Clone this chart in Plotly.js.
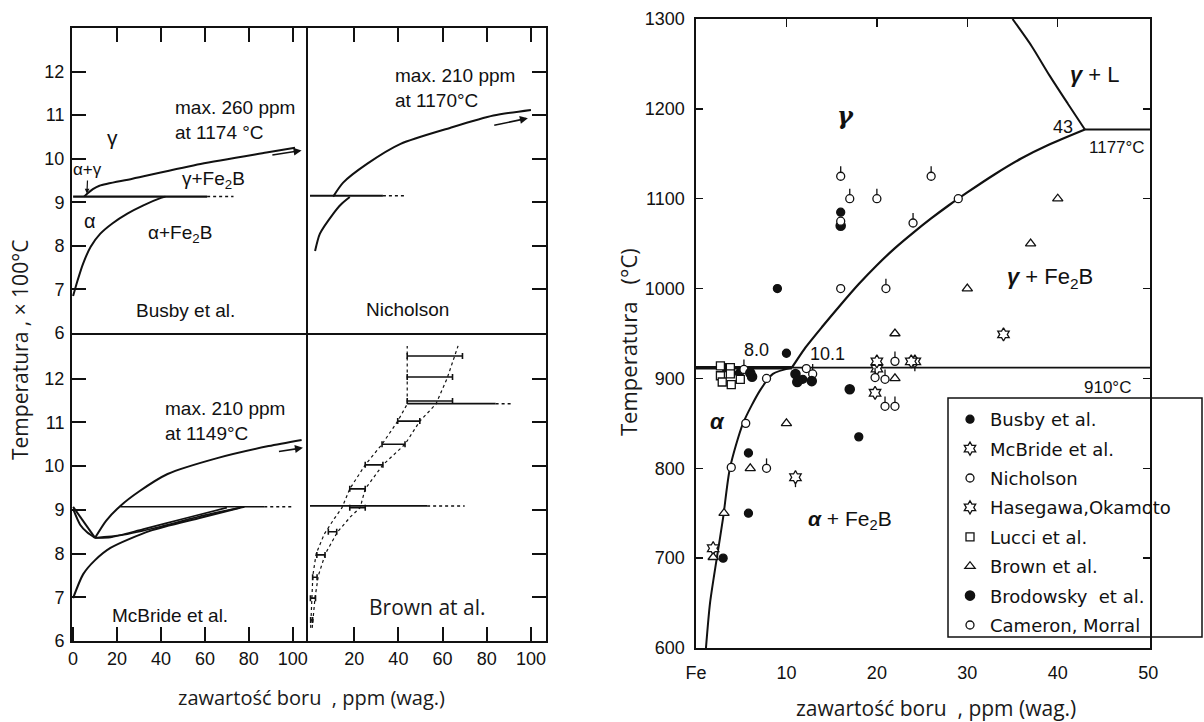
<!DOCTYPE html>
<html><head><meta charset="utf-8">
<script src="https://cdn.plot.ly/plotly-3.0.1.min.js"></script>
<style>html,body{margin:0;padding:0;background:#fff;}#chart{width:1204px;height:722px;}</style>
</head><body><div id="chart"></div>
<script>
// ===== LEFT PANELS (temperature in units of 100 °C, boron in ppm) =====
// Busby et al.
const busbyUpperX = [5, 6.5, 9, 12, 27, 58, 88, 101];
const busbyUpperY = [9.13, 9.2, 9.3, 9.38, 9.54, 9.88, 10.14, 10.25];
const busbyIsoX = [0, 61];
const busbyIsoY = [9.13, 9.13];
const busbyIsoDashX = [61, 73];
const busbyIsoDashY = [9.13, 9.13];
const busbyAlphaX = [0, 2, 4.6, 8, 12.4, 18, 24.7, 32, 40, 42];
const busbyAlphaY = [6.85, 7.2, 7.6, 7.98, 8.28, 8.52, 8.74, 8.93, 9.1, 9.13];
// Nicholson
const nichUpperX = [10.5, 15, 25.8, 41, 63.6, 83, 100];
const nichUpperY = [9.13, 9.45, 9.88, 10.34, 10.71, 10.99, 11.12];
const nichIsoX = [0, 33];
const nichIsoY = [9.15, 9.15];
const nichIsoDashX = [33, 43];
const nichIsoDashY = [9.15, 9.15];
const nichLowerX = [2.3, 4.5, 10.4, 14, 18];
const nichLowerY = [7.88, 8.28, 8.73, 8.95, 9.12];
// McBride et al.
const mcbUpperX = [10, 15, 21.5, 30, 43, 66, 89, 104];
const mcbUpperY = [8.36, 8.75, 9.09, 9.42, 9.82, 10.19, 10.46, 10.6];
const mcbLeftAX = [0, 10];
const mcbLeftAY = [9.07, 8.36];
const mcbLeftBX = [0, 3.2, 6.5, 10];
const mcbLeftBY = [9.02, 8.66, 8.48, 8.36];
const mcbMidAX = [10, 17, 32, 52, 70];
const mcbMidAY = [8.36, 8.37, 8.56, 8.82, 9.05];
const mcbMidBX = [10, 22, 40, 60, 78];
const mcbMidBY = [8.36, 8.42, 8.62, 8.88, 9.07];
const mcbIsoX = [21.5, 87];
const mcbIsoY = [9.07, 9.07];
const mcbIsoDashX = [87, 100];
const mcbIsoDashY = [9.07, 9.07];
const mcbLowerX = [0, 4.6, 10, 17, 35, 58, 76];
const mcbLowerY = [6.98, 7.53, 7.85, 8.13, 8.52, 8.82, 9.05];
// Brown et al.
const brownBarT = [12.52, 12.04, 11.49, 11.03, 10.5, 10.03, 9.48, 9.05, 8.5, 7.97, 7.46, 6.98, 6.48];
const brownBarLo = [44, 44, 44, 39.7, 32.6, 25, 18, 18, 8.3, 3.1, 1.2, 0.2, 0.3];
const brownBarHi = [69, 64.5, 64.5, 49.7, 43, 33, 25, 25, 12.1, 6.8, 3.2, 2.5, 1.2];
const brownLeftX = [0.3, 0.7, 1.3, 2.8, 6.5, 11, 14.5, 18, 25, 32.6, 39.7, 44, 44];
const brownLeftY = [6.3, 7.0, 7.5, 8.0, 8.45, 8.8, 9.05, 9.48, 10.03, 10.5, 11.03, 11.42, 12.75];
const brownRightX = [1, 2.3, 3.8, 7, 12.5, 18.5, 22.7, 25, 33, 43, 49.7, 57, 62, 67];
const brownRightY = [6.3, 7.0, 7.5, 8.0, 8.5, 8.85, 9.05, 9.48, 10.03, 10.5, 11.03, 11.42, 12.0, 12.75];
const brownIsoLowX = [0, 53];
const brownIsoLowY = [9.09, 9.09];
const brownIsoLowDashX = [53, 70];
const brownIsoLowDashY = [9.09, 9.09];
const brownIsoHighX = [44, 84];
const brownIsoHighY = [11.43, 11.43];
const brownIsoHighDashX = [84, 92];
const brownIsoHighDashY = [11.43, 11.43];
const leftYTicks = [6, 7, 8, 9, 10, 11, 12];
const leftXTicks = [0, 20, 40, 60, 80, 100];

// ===== RIGHT PANEL (°C, ppm) =====
const alphaSolvusX = [1.1, 1.55, 2.3, 3.0, 3.75, 5.2, 7.1, 8.5, 10.6];
const alphaSolvusT = [600, 650, 700, 745, 800, 850, 887, 905, 912];
const gammaBoundX = [10.6, 12, 14, 16, 18, 20, 22, 24, 26, 28, 30, 33, 36, 39, 43];
const gammaBoundT = [912, 933, 958, 982, 1005, 1026, 1045, 1062, 1078, 1093, 1107, 1127, 1145, 1160, 1177];
const liquidusX = [35, 37.1, 39.1, 41.1, 43];
const liquidusT = [1300, 1270, 1237, 1206, 1177];
const eutectoidBoldX = [0, 10.6];
const eutectoidThinX = [10.6, 50.2];
const eutectoidT = [912, 912];
const eutecticX = [43, 50.2];
const eutecticT = [1177, 1177];

const seriesNames = ['Busby et al.', 'McBride et al.', 'Nicholson', 'Hasegawa,Okamoto',
  'Lucci et al.', 'Brown et al.', 'Brodowsky  et al.', 'Cameron, Morral'];
const busbyX = [9, 16, 10, 3, 5.8, 5.8, 18, 3.3, 4.8, 11.8];
const busbyT = [1000, 1085, 928, 700, 750, 817, 835, 912, 906, 899];
const mcbrideX = [11, 20, 24.2];
const mcbrideT = [790, 911, 919];
const nicholsonX = [16, 17, 20, 24, 26, 21, 7.8, 12.9, 5.3, 19.8, 20.9, 22, 20.9, 22];
const nicholsonT = [1125, 1100, 1100, 1073, 1125, 1000, 800, 905, 910, 901, 899, 919, 869, 869];
const hasegawaX = [1.9, 34, 20, 23.8, 19.8];
const hasegawaT = [711, 949, 919, 919, 884];
const lucciX = [2.7, 3.8, 2.7, 3.8, 2.9, 3.9, 4.9];
const lucciT = [914, 912, 903, 905, 896, 893, 899];
const brownX = [1.9, 3.1, 6, 10, 22, 22, 30, 37, 40];
const brownT = [701, 750, 800, 850, 950, 900, 1000, 1050, 1100];
const brodowskyX = [16, 6.0, 6.2, 11, 11.2, 12.8, 17];
const brodowskyT = [1070, 906, 902, 905, 896, 897, 888];
const cameronX = [16, 16, 3.9, 5.5, 7.8, 12.2, 29];
const cameronT = [1075, 1000, 801, 850, 900, 911, 1100];
const rightXTicks = [0, 10, 20, 30, 40, 50];
const rightXTickText = ['Fe', '10', '20', '30', '40', '50'];
const rightYTicks = [600, 700, 800, 900, 1000, 1100, 1200, 1300];

// ===== helpers =====
const INK = '#111';
const NB = '\u00a0';
function ln(x, y, xa, ya, o) {
  o = o || {};
  return {x: x, y: y, xaxis: xa, yaxis: ya, mode: 'lines', showlegend: false, hoverinfo: 'skip',
    line: {color: INK, width: o.w || 2, dash: o.dash || 'solid', shape: o.spline ? 'spline' : 'linear', smoothing: 0.7}};
}
const traces = [];
// Busby
traces.push(ln(busbyUpperX, busbyUpperY, 'x', 'y', {spline: true}));
traces.push(ln(busbyIsoX, busbyIsoY, 'x', 'y', {w: 2.4}));
traces.push(ln(busbyIsoDashX, busbyIsoDashY, 'x', 'y', {dash: 'dot', w: 1.5}));
traces.push(ln(busbyAlphaX, busbyAlphaY, 'x', 'y', {spline: true}));
// Nicholson
traces.push(ln(nichUpperX, nichUpperY, 'x2', 'y2', {spline: true}));
traces.push(ln(nichIsoX, nichIsoY, 'x2', 'y2'));
traces.push(ln(nichIsoDashX, nichIsoDashY, 'x2', 'y2', {dash: 'dot', w: 1.5}));
traces.push(ln(nichLowerX, nichLowerY, 'x2', 'y2', {spline: true}));
// McBride
traces.push(ln(mcbUpperX, mcbUpperY, 'x3', 'y3', {spline: true}));
traces.push(ln(mcbLeftAX, mcbLeftAY, 'x3', 'y3'));
traces.push(ln(mcbLeftBX, mcbLeftBY, 'x3', 'y3', {spline: true}));
traces.push(ln(mcbMidAX, mcbMidAY, 'x3', 'y3', {spline: true, w: 1.7}));
traces.push(ln(mcbMidBX, mcbMidBY, 'x3', 'y3', {spline: true, w: 1.7}));
traces.push(ln(mcbIsoX, mcbIsoY, 'x3', 'y3', {w: 1.6}));
traces.push(ln(mcbIsoDashX, mcbIsoDashY, 'x3', 'y3', {dash: 'dot', w: 1.5}));
traces.push(ln(mcbLowerX, mcbLowerY, 'x3', 'y3', {spline: true}));
// Brown
traces.push(ln(brownLeftX, brownLeftY, 'x4', 'y4', {dash: 'dot', w: 1.2}));
traces.push(ln(brownRightX, brownRightY, 'x4', 'y4', {dash: 'dot', w: 1.2}));
traces.push(ln(brownIsoLowX, brownIsoLowY, 'x4', 'y4', {w: 1.8}));
traces.push(ln(brownIsoLowDashX, brownIsoLowDashY, 'x4', 'y4', {dash: 'dot', w: 1.5}));
traces.push(ln(brownIsoHighX, brownIsoHighY, 'x4', 'y4', {w: 1.8}));
traces.push(ln(brownIsoHighDashX, brownIsoHighDashY, 'x4', 'y4', {dash: 'dot', w: 1.5}));
traces.push({
  x: brownBarLo.map((lo, i) => (lo + brownBarHi[i]) / 2), y: brownBarT, xaxis: 'x4', yaxis: 'y4',
  mode: 'markers', marker: {size: 1, color: 'rgba(0,0,0,0)'}, showlegend: false, hoverinfo: 'skip',
  error_x: {type: 'data', array: brownBarLo.map((lo, i) => (brownBarHi[i] - lo) / 2), visible: true,
    color: INK, thickness: 1.6, width: 3}
});
// Right panel curves
traces.push(ln(alphaSolvusX, alphaSolvusT, 'x5', 'y5', {spline: true, w: 2}));
traces.push(ln(gammaBoundX, gammaBoundT, 'x5', 'y5', {spline: true, w: 2.2}));
traces.push(ln(liquidusX, liquidusT, 'x5', 'y5', {spline: true, w: 2}));
traces.push(ln(eutectoidBoldX, eutectoidT, 'x5', 'y5', {w: 3.5}));
traces.push(ln(eutectoidThinX, eutectoidT, 'x5', 'y5', {w: 1.6}));
traces.push(ln(eutecticX, eutecticT, 'x5', 'y5', {w: 2}));
traces.push({x: [10], y: [1300], xaxis: 'x6', yaxis: 'y5', mode: 'markers', marker: {size: 1, color: 'rgba(0,0,0,0)'}, showlegend: false, hoverinfo: 'skip'});

function pts(name, x, y, sym, opt) {
  opt = opt || {};
  const t = {x: x, y: y, xaxis: 'x5', yaxis: 'y5', mode: 'markers', name: name, legendgroup: name,
    hoverinfo: 'skip',
    marker: {symbol: sym, size: opt.size || 8, color: opt.fill || '#fff', line: {color: INK, width: opt.lw || 1.3}}};
  if (opt.stem) {
    t.error_y = {type: 'constant', symmetric: false, value: opt.stem > 0 ? opt.stem : 0,
      valueminus: opt.stem < 0 ? -opt.stem : 0, width: 0, thickness: 1.3, color: INK, visible: true};
  }
  return t;
}
traces.push(pts(seriesNames[0], busbyX, busbyT, 'circle', {fill: INK, size: 8}));
traces.push(pts(seriesNames[1], mcbrideX, mcbrideT, 'hexagram', {size: 10, stem: -11}));
traces.push(pts(seriesNames[2], nicholsonX, nicholsonT, 'circle', {stem: 11}));
traces.push(pts(seriesNames[3], hasegawaX, hasegawaT, 'hexagram', {size: 10}));
traces.push(pts(seriesNames[4], lucciX, lucciT, 'square', {size: 8}));
traces.push(pts(seriesNames[5], brownX, brownT, 'triangle-up', {size: 9}));
traces.push(pts(seriesNames[6], brodowskyX, brodowskyT, 'circle-dot', {fill: INK, lw: 2.6, size: 8}));
traces.push(pts(seriesNames[7], cameronX, cameronT, 'circle', {size: 8}));

// ===== layout =====
const W = 1204, H = 722;
const px = v => v / W, py = v => 1 - v / H;
const tickFontL = {family: 'Liberation Sans, Arial, sans-serif', size: 18, color: INK};
function lax(extra) {
  return Object.assign({showline: true, linecolor: INK, linewidth: 2, mirror: true, showgrid: false,
    zeroline: false, ticks: 'inside', ticklen: 14, tickwidth: 2, tickcolor: INK, tickfont: tickFontL,
    fixedrange: true}, extra);
}
const topDom = [py(333), py(28)], botDom = [py(641), py(335)];
const leftDom = [px(72), px(306)], rightDom = [px(308), px(546)];
const xrL = [-0.5, 106], xrR = [-0.9, 106.8];

const fL = (s) => ({family: 'Liberation Sans, Arial, sans-serif', size: s || 18, color: INK});
const fOS = (s) => ({family: 'Open Sans, sans-serif', size: s || 20, color: '#1a1a1a'});
function ann(text, x, y, xr, yr, font, extra) {
  return Object.assign({text: text, x: x, y: y, xref: xr, yref: yr, showarrow: false, font: font,
    xanchor: 'center', yanchor: 'middle'}, extra || {});
}
const annotations = [
  // Busby
  ann('γ', 17.8, 10.48, 'x', 'y', fL(21)),
  ann('max. 260 ppm<br>at 1174 °C', 45.5, 10.89, 'x', 'y', fL(19), {xanchor: 'left', align: 'left'}),
  ann('γ+Fe<sub>2</sub>B', 63.7, 9.5, 'x', 'y', fL(19)),
  ann('α', 7.7, 8.58, 'x', 'y', fL(20)),
  ann('α+Fe<sub>2</sub>B', 48.7, 8.28, 'x', 'y', fL(19)),
  ann('Busby et al.', 51, 6.51, 'x', 'y', fL(19)),
  {text: 'α+γ', x: 6.3, y: 9.2, xref: 'x', yref: 'y', showarrow: true, ax: 1, ay: -24,
    arrowhead: 2, arrowsize: 0.8, arrowwidth: 1.2, arrowcolor: INK, font: fL(17)},
  {text: '', x: 104, y: 10.19, xref: 'x', yref: 'y', ax: 90, ay: 10.08, axref: 'x', ayref: 'y',
    showarrow: true, arrowhead: 2, arrowsize: 1, arrowwidth: 1.6, arrowcolor: INK},
  // Nicholson
  ann('max. 210 ppm<br>at 1170°C', 37.5, 11.63, 'x2', 'y2', fL(19), {xanchor: 'left', align: 'left'}),
  ann('Nicholson', 44, 6.54, 'x2', 'y2', fL(19)),
  {text: '', x: 98.6, y: 10.93, xref: 'x2', yref: 'y2', ax: 82.7, ay: 10.76, axref: 'x2', ayref: 'y2',
    showarrow: true, arrowhead: 2, arrowsize: 1, arrowwidth: 1.6, arrowcolor: INK},
  // McBride
  ann('max. 210 ppm<br>at 1149°C', 41, 11.03, 'x3', 'y3', fL(19), {xanchor: 'left', align: 'left'}),
  ann('McBride et al.', 44.2, 6.58, 'x3', 'y3', fL(19)),
  {text: '', x: 104.6, y: 10.42, xref: 'x3', yref: 'y3', ax: 93, ay: 10.33, axref: 'x3', ayref: 'y3',
    showarrow: true, arrowhead: 2, arrowsize: 1, arrowwidth: 1.6, arrowcolor: INK},
  // Brown
  ann('Brown at al.', 53, 6.78, 'x4', 'y4', fOS(21)),
  // Right panel
  ann('<b><i>γ</i></b>', 16.5, 1193, 'x5', 'y5', {family: 'DejaVu Serif, serif', size: 24, color: INK}),
  ann('<b><i>γ</i></b> + L', 44.1, 1238, 'x5', 'y5', fL(22)),
  ann('43', 40.6, 1180, 'x5', 'y5', fL(18)),
  ann('1177°C', 46.6, 1157, 'x5', 'y5', fL(17)),
  ann('<b><i>γ</i></b> + Fe<sub>2</sub>B', 39.1, 1012, 'x5', 'y5', fL(22)),
  ann('8.0', 6.7, 932, 'x5', 'y5', fL(18)),
  ann('10.1', 14.5, 927, 'x5', 'y5', fL(18)),
  ann('910°C', 45.5, 890, 'x5', 'y5', fL(17)),
  ann('<b><i>α</i></b>', 2.4, 852, 'x5', 'y5', fL(22)),
  ann('<b><i>α</i></b> + Fe<sub>2</sub>B', 17, 743, 'x5', 'y5', fL(21)),
  // Axis titles
  ann('Temperatura' + NB + ',' + NB + '×' + NB + '100°C', px(20), py(350), 'paper', 'paper', fOS(21), {textangle: -90}),
  ann('zawartość boru' + NB + NB + ',' + NB + 'ppm (wag.)', px(311), py(697), 'paper', 'paper', fOS(20)),
  ann('Temperatura' + NB + NB + NB + '(°C)', px(628), py(342), 'paper', 'paper', fOS(22), {textangle: -90}),
  ann('zawartość boru' + NB + NB + ',' + NB + 'ppm (wag.)', px(936), py(708), 'paper', 'paper', fOS(21))
];

const layout = {
  width: W, height: H, margin: {l: 0, r: 0, t: 0, b: 0},
  paper_bgcolor: '#fff', plot_bgcolor: 'rgba(0,0,0,0)',
  font: {family: 'Liberation Sans, Arial, sans-serif', color: INK},
  xaxis: lax({domain: leftDom, range: xrL, anchor: 'y', side: 'top', tickvals: [20, 40, 60, 80, 100], showticklabels: false}),
  yaxis: lax({domain: topDom, range: [6, 13], anchor: 'x', tickvals: leftYTicks, ticklabelstandoff: 2}),
  xaxis2: lax({domain: rightDom, range: xrR, anchor: 'y2', side: 'top', tickvals: [20, 40, 60, 80, 100], showticklabels: false}),
  yaxis2: lax({domain: topDom, range: [6, 13], anchor: 'x2', side: 'right', tickvals: [7, 8, 9, 10, 11, 12], showticklabels: false}),
  xaxis3: lax({domain: leftDom, range: xrL, anchor: 'y3', side: 'bottom', tickvals: leftXTicks}),
  yaxis3: lax({domain: botDom, range: [6, 13], anchor: 'x3', tickvals: leftYTicks, ticklabelstandoff: 2}),
  xaxis4: lax({domain: rightDom, range: xrR, anchor: 'y4', side: 'bottom', tickvals: [20, 40, 60, 80, 100]}),
  yaxis4: lax({domain: botDom, range: [6, 13], anchor: 'x4', side: 'right', tickvals: [7, 8, 9, 10, 11, 12], showticklabels: false}),
  xaxis5: {domain: [px(696), px(1150)], range: [0, 50.2], anchor: 'y5', side: 'bottom',
    showline: true, linecolor: INK, linewidth: 1.6, mirror: true, showgrid: false, zeroline: false,
    ticks: '', tickvals: rightXTicks, ticktext: rightXTickText, tickfont: fL(18), ticklabelstandoff: 8, fixedrange: true},
  xaxis6: {overlaying: 'x5', range: [0, 50.2], anchor: 'y5', side: 'top', showline: false, showgrid: false,
    zeroline: false, ticks: 'inside', ticklen: 8, tickwidth: 1.3, tickcolor: INK, tickvals: [10, 20, 30, 40],
    showticklabels: false, fixedrange: true},
  yaxis5: {domain: [py(648), py(19)], range: [600, 1300], anchor: 'x5',
    showline: true, linecolor: INK, linewidth: 1.6, mirror: 'ticks', showgrid: false, zeroline: false,
    ticks: 'inside', ticklen: 7, tickwidth: 1.3, tickcolor: INK, tickvals: rightYTicks, tickfont: fL(18),
    ticklabelstandoff: 6, fixedrange: true},
  showlegend: true,
  legend: {x: px(950), y: py(401), xanchor: 'left', yanchor: 'top', bgcolor: 'rgba(0,0,0,0)', borderwidth: 0,
    font: {family: 'DejaVu Sans, sans-serif', size: 18, color: INK}, traceorder: 'grouped', tracegroupgap: 3},
  shapes: [
    {type: 'rect', xref: 'paper', yref: 'paper', x0: px(948), x1: px(1202), y0: py(637), y1: py(398),
      line: {color: INK, width: 1.5}, fillcolor: '#fff', layer: 'below'}
  ],
  annotations: annotations
};
Plotly.newPlot('chart', traces, layout, {displayModeBar: false, staticPlot: true});
</script>
</body></html>
